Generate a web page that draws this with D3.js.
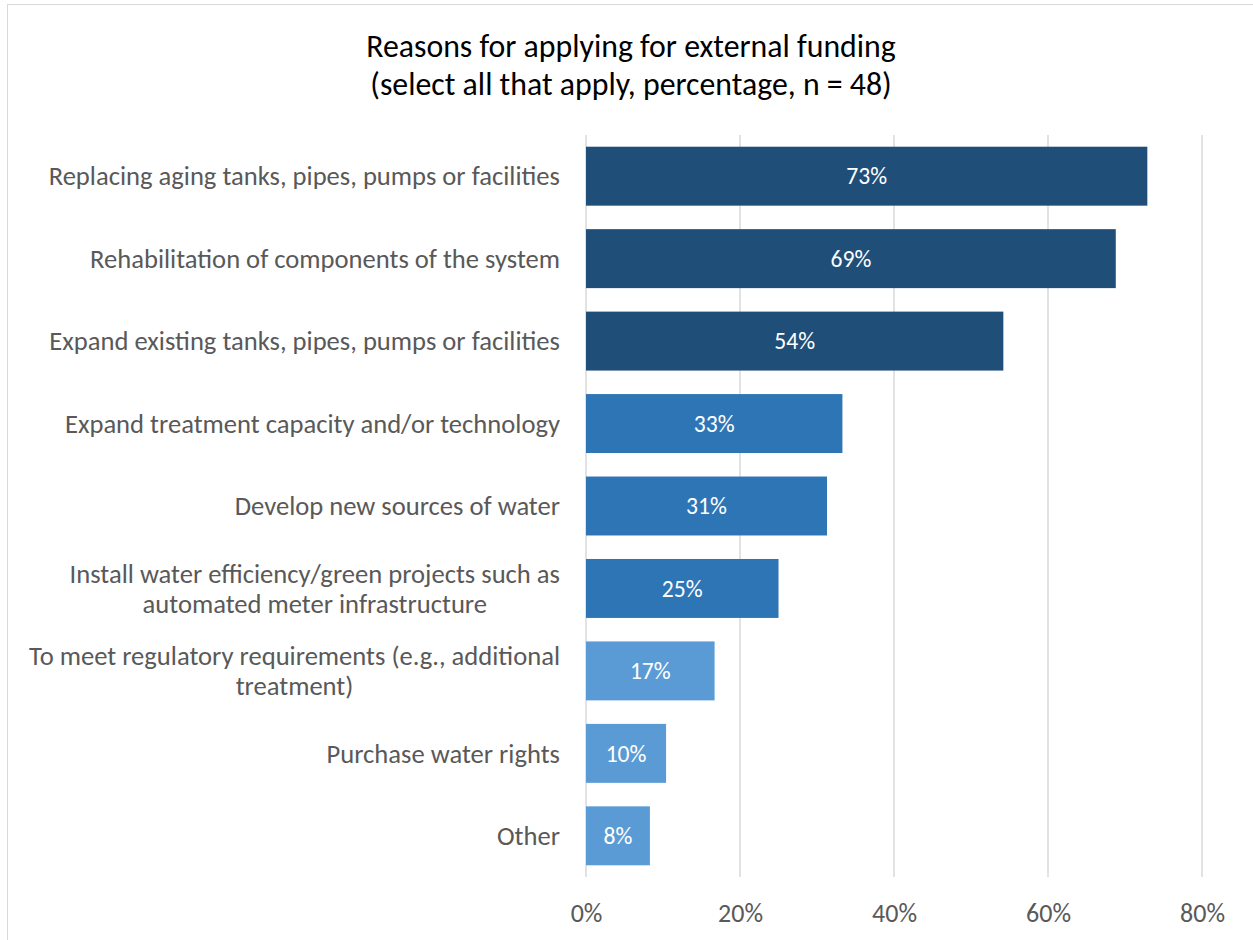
<!DOCTYPE html>
<html>
<head>
<meta charset="utf-8">
<script src="https://cdn.jsdelivr.net/npm/d3@7"></script>
<style>
  html, body { margin: 0; padding: 0; background: #fff; }
  svg { display: block; font-family: Carlito, Lato, "Open Sans", sans-serif; }
</style>
</head>
<body>
<svg id="chart" width="1253" height="940"></svg>
<script>
// Survey responses, share of 48 respondents
const categories = [
  "Replacing aging tanks, pipes, pumps or facilities",
  "Rehabilitation of components of the system",
  "Expand existing tanks, pipes, pumps or facilities",
  "Expand treatment capacity and/or technology",
  "Develop new sources of water",
  "Install water efficiency/green projects such as\nautomated meter infrastructure",
  "To meet regulatory requirements (e.g., additional\ntreatment)",
  "Purchase water rights",
  "Other"
];
const values = [0.729, 0.688, 0.542, 0.333, 0.313, 0.25, 0.167, 0.104, 0.083];
const groups = ["dark", "dark", "dark", "mid", "mid", "mid", "light", "light", "light"];
const xTicks = [0, 0.2, 0.4, 0.6, 0.8];
const titleLines = ["Reasons for applying for external funding", "(select all that apply, percentage, n = 48)"];

const palette = { dark: "#1F4E79", mid: "#2E75B6", light: "#5B9BD5" };

const svg = d3.select("#chart");
const W = 1253, H = 940;
const margin = { left: 586, right: 51, top: 135, bottom: 63 };

// chart frame
svg.append("rect")
  .attr("x", 7.5).attr("y", 4.5)
  .attr("width", W + 20).attr("height", H + 20)
  .attr("fill", "#fff").attr("stroke", "#d9d9d9").attr("stroke-width", 1);

const x = d3.scaleLinear().domain([0, 0.8]).range([margin.left, W - margin.right]);
const y = d3.scaleBand().domain(categories)
  .range([margin.top, H - margin.bottom])
  .paddingInner(0.285).paddingOuter(0.142);

// title
svg.append("g").selectAll("text").data(titleLines).join("text")
  .attr("x", 631).attr("y", (d, i) => 57 + i * 38)
  .attr("text-anchor", "middle")
  .attr("font-size", 31.8).attr("fill", "#000")
  .text(d => d);

// vertical gridlines
svg.append("g").selectAll("line").data(xTicks).join("line")
  .attr("x1", d => x(d)).attr("x2", d => x(d))
  .attr("y1", margin.top).attr("y2", H - margin.bottom)
  .attr("stroke", "#d9d9d9").attr("stroke-width", 1.5);

// x axis labels
const xAxis = d3.axisBottom(x).tickValues(xTicks).tickFormat(d3.format(".0%")).tickSize(0).tickPadding(0);
const gx = svg.append("g").attr("transform", `translate(0,${H - margin.bottom + 36})`).call(xAxis);
gx.select(".domain").remove();
gx.selectAll("text")
  .attr("font-family", "Carlito, Lato, 'Open Sans', sans-serif")
  .attr("font-size", 26).attr("fill", "#595959").attr("dy", "0.35em");

// bars
svg.append("g").selectAll("rect").data(categories).join("rect")
  .attr("x", x(0))
  .attr("y", d => y(d))
  .attr("width", (d, i) => x(values[i]) - x(0))
  .attr("height", y.bandwidth())
  .attr("fill", (d, i) => palette[groups[i]]);

// value labels
svg.append("g").selectAll("text").data(categories).join("text")
  .attr("x", (d, i) => (x(0) + x(values[i])) / 2)
  .attr("y", d => y(d) + y.bandwidth() / 2)
  .attr("dy", "0.35em")
  .attr("text-anchor", "middle")
  .attr("font-size", 23.6).attr("fill", "#fff")
  .text((d, i) => d3.format(".0%")(values[i]));

// category labels, multi-line labels centered within a right-aligned block
const labelRight = 560;
const lineGap = 30;
const catG = svg.append("g");
categories.forEach(cat => {
  const lines = cat.split("\n");
  const t = catG.append("text")
    .attr("font-size", 26.6).attr("fill", "#595959");
  const cy = y(cat) + y.bandwidth() / 2;
  lines.forEach((ln, j) => {
    t.append("tspan")
      .attr("y", cy + (j - (lines.length - 1) / 2) * lineGap)
      .attr("dy", "0.35em")
      .text(ln);
  });
  if (lines.length === 1) {
    t.attr("text-anchor", "end").selectAll("tspan").attr("x", labelRight);
  } else {
    const widths = t.selectAll("tspan").nodes().map(n => n.getComputedTextLength());
    const maxW = d3.max(widths);
    t.attr("text-anchor", "middle").selectAll("tspan").attr("x", labelRight - maxW / 2);
  }
});
</script>
</body>
</html>
